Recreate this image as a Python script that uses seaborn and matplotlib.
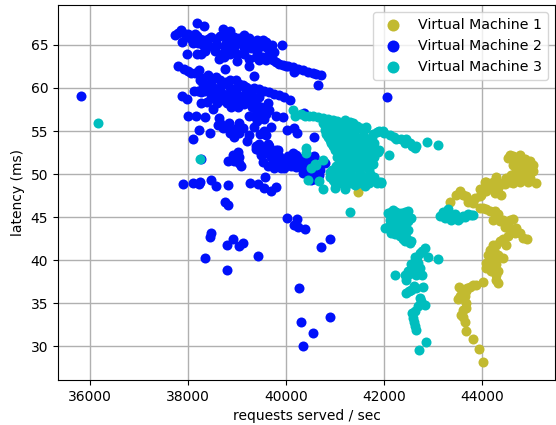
import pandas as pd
import matplotlib
matplotlib.use('Agg')
import matplotlib.pyplot as plt
import seaborn as sns

# values
vm1_x = [41471, 43340, 43544, 43476, 43680, 43816, 43952, 44054, 44224, 44088, 44258, 44394, 44462, 44496,
         44632, 44768, 44938, 45094, 44564, 44530, 44768, 44972, 45040, 44836, 44734, 44972, 44870, 44666,
         44938, 44802, 44632, 43952, 44088, 44258, 44326, 44224, 44428, 44632, 44462, 44598, 44768, 44918,
         44836, 44530, 44360, 44496, 44224, 44156, 44156, 44258, 44428, 44088, 44224, 44292, 44326, 44020,
         43884, 43748, 43523, 43666, 43510, 43666, 43612, 43578, 43652, 43673, 43822, 43938, 44026,
         44632, 44768, 44904, 45040, 44598, 44700, 44836, 44972, 44632, 44360, 44292, 44122, 43986, 43850,
         43714, 43612, 44190, 44326, 43952, 44088, 44564,
         44020, 44156, 44258, 44360, 44530, 44564, 44700, 44666, 44428, 44292, 44122, 44258, 44326, 44156,
         44088, 44292, 44326, 44292, 44224, 44190, 43816, 43693, 43578, 43646, 43544, 43666, 43612]
vm1_y = [47.9, 46.7, 48.0, 47.6, 47.4, 46.6, 47.4, 49.1, 49.1, 48.0, 47.8, 47.6, 48.8, 49.5,
         49.0, 49.1, 49.1, 49.0, 52.2, 51.9, 52.2, 51.5, 51.1, 50.9, 49.7, 50.1, 51.7, 51.5,
         50.6, 49.9, 52.1, 46.0, 45.9, 45.7, 45.3, 44.7, 44.7, 44.8, 43.8, 43.5, 43.1, 42.5,
         42.6, 42.8, 42.2, 41.8, 41.8, 41.2, 40.6, 40.0, 40.2, 39.6, 39.1, 38.3, 37.3, 37.4,
         37.1, 36.9, 36.9, 36.4, 35.5, 35.0, 34.2, 33.6, 32.8, 31.8, 30.8, 29.7, 28.1,
         51.1, 51.5, 50.7, 50.3, 49.9, 50.5, 49.7, 49.5, 49.5, 49.0, 49.7, 48.6, 47.6, 47.2,
         46.8, 47.6, 48.6, 48.4, 48.2, 49.1, 49.1,
         46.0, 45.7, 44.9, 44.5, 44.3, 44.7, 43.7, 43.1, 42.4, 41.8, 40.6, 40.8, 40.6, 39.8,
         39.1, 39.5, 38.7, 37.7, 39.8, 38.7, 37.1, 36.7, 36.6, 35.8, 35.8, 34.4, 33.4]

vm2_x = [35816, 42060, 38183, 38332, 38725, 38861, 37729, 37858, 39153, 37885, 38000, 38136, 38237, 38102,
         38407, 38576, 38305, 38271, 37980, 38509, 38644, 38746, 38780, 38915, 39051, 39187, 39322, 39539,
         39715, 39912, 39763, 39593, 39458, 38848, 38997, 39153, 39241, 39390, 39526, 39729, 39865, 40000,
         40136, 40170, 40339, 40543, 40712, 40651, 39356, 38759,
         37797, 37912, 38068, 38224, 38237, 38407, 38576, 38441, 38780, 38983, 39119, 39254, 39458, 39763,
         39966, 40081, 39627, 38129, 38271, 38441, 38576, 38712, 38881, 39051, 37885, 37986, 38271, 38475,
         38509, 38712, 38881, 39017, 39220, 39390, 39424, 39254, 39458, 39593, 39797, 39946, 38000, 38170,
         38353, 38631, 38610, 38848, 39051, 38712, 38949, 39119, 39254, 39200, 39356, 39695, 39593, 39471,
         38224, 38454, 38102, 40014, 40170, 40217, 40563, 40360, 39458, 39627, 39390, 39831, 39661, 40136,
         40563,
         38271, 38814, 38915, 39017, 39051, 39085, 39526, 39627, 39580, 39729, 39865, 39831, 39966, 40102,
         40170, 40204, 40034, 40339, 40407, 40576, 40793, 40678, 40509, 40576, 37898, 38102, 38224, 38237,
         38475, 38576, 38827, 39275, 39424, 39559, 39695, 39797, 38759, 38827, 40014, 40217, 40170, 40237,
         40380, 40902, 40712, 38475, 38454, 38929, 38800, 39037, 39119, 38346, 39437, 38800,
         40272, 40313, 40558, 40905, 40354, 39458, 39661, 39390, 39593, 39797, 40000, 40271, 40441, 40610,
         40339,
         37800, 37950, 38050, 38180, 38300, 38480, 38650, 38800, 38950, 39050, 39250, 39420, 39600, 38200,
         38400, 38600, 38750, 38950, 39150, 39280, 39400, 39650, 38350, 38550, 38700, 38850, 39000, 39250,
         39450, 39600, 39800, 39950, 40050, 40250, 40450, 40620, 38180,
         38000, 38150, 38300, 38500, 38650, 38850, 39050, 39180, 39350, 39550, 39650, 39850, 38300, 38500,
         38680, 38850, 39000, 39180, 38200, 38350, 38600, 38800, 38950, 39100, 39300, 39450, 38400, 38600,
         38800, 39000, 39150, 39300, 39500, 39650, 39350, 39550, 39400, 38650, 38800, 38900, 39000, 38850,
         39050, 39550,
         39600, 39750, 39500, 39700, 39800, 39900, 40000, 40100, 40200, 40300, 39900, 39750, 40450, 40550,
         40480, 40700, 40600, 40100, 40200, 40400, 39050, 38950]
vm2_y = [59.1, 58.9, 67.6, 67.2, 66.9, 66.6, 66.2, 66.8, 66.2, 65.3, 66.3, 66.3, 65.7, 65.2,
         65.7, 65.7, 65.0, 64.0, 63.9, 64.8, 63.4, 63.6, 65.2, 65.3, 65.2, 65.3, 65.3, 65.6,
         65.0, 65.0, 64.2, 64.8, 64.8, 64.4, 63.1, 64.0, 62.6, 63.6, 63.6, 63.2, 62.8, 62.6,
         62.4, 61.9, 62.1, 61.7, 61.5, 60.3, 61.4, 62.2,
         62.5, 62.2, 61.7, 62.1, 60.9, 61.5, 61.3, 60.5, 60.7, 60.9, 60.3, 59.9, 59.9, 59.3,
         59.0, 58.6, 58.2, 59.7, 59.5, 59.5, 59.7, 59.3, 59.3, 59.1, 59.1, 58.7, 58.3, 58.8,
         57.6, 58.6, 57.8, 57.8, 58.6, 58.4, 57.4, 56.8, 56.6, 57.0, 56.8, 56.6, 56.7, 56.8,
         56.6, 56.5, 55.7, 55.9, 55.9, 55.3, 54.3, 55.3, 54.5, 53.8, 55.5, 55.5, 54.5, 54.6,
         55.1, 54.8, 54.1, 55.1, 55.4, 54.8, 54.3, 57.1, 53.5, 53.5, 52.9, 52.8, 52.4, 52.4,
         52.0,
         51.7, 51.5, 52.2, 52.6, 51.3, 50.9, 51.4, 50.9, 49.7, 51.3, 52.1, 51.1, 50.7, 50.9,
         52.2, 51.5, 52.1, 51.1, 50.3, 52.1, 51.3, 49.9, 49.3, 50.7, 48.8, 49.0, 48.8, 49.1,
         49.3, 48.6, 48.7, 49.0, 48.8, 48.4, 48.0, 48.5, 46.7, 46.4, 44.9, 44.8, 44.1, 43.8,
         43.6, 42.5, 41.5, 43.1, 42.7, 42.4, 41.7, 41.6, 42.0, 40.2, 40.5, 38.8,
         36.8, 32.8, 31.5, 33.4, 30.0, 52.8, 53.2, 53.2, 52.4, 52.8, 51.5, 51.9, 51.3, 49.9,
         50.1,
         66.4, 66.3, 65.8, 66.0, 65.6, 65.9, 66.0, 65.9, 65.9, 65.8, 65.8, 65.6, 65.3, 65.2,
         65.0, 65.0, 64.6, 64.8, 64.6, 64.6, 64.2, 64.0, 64.3, 64.3, 63.9, 63.9, 64.0, 63.4,
         63.2, 63.3, 63.0, 62.7, 62.5, 62.2, 61.9, 61.6, 63.9,
         62.0, 61.8, 61.2, 61.0, 60.9, 60.9, 60.5, 60.1, 60.0, 59.6, 59.5, 59.2, 60.4, 60.2,
         60.2, 60.0, 60.0, 59.6, 59.7, 59.6, 59.0, 58.8, 58.6, 59.0, 59.2, 58.9, 58.4, 58.2,
         58.2, 58.2, 58.1, 57.8, 57.8, 57.4, 56.8, 56.4, 56.2, 55.9, 55.6, 55.0, 55.3, 54.8,
         54.8, 55.0,
         53.0, 52.5, 52.2, 52.0, 51.8, 51.2, 51.0, 51.7, 50.8, 50.8, 50.7, 50.7, 50.7, 50.3,
         49.8, 50.5, 49.4, 52.0, 52.2, 51.8, 52.0, 51.5]

vm3_x = [36163, 38237, 40149, 40183, 40386, 40556, 40760, 40963, 41200, 41370, 41539, 41641, 41776, 41980,
         42115, 42251, 42454, 42420, 42624, 42658, 42881, 43098, 42102,
         40759, 40895, 41098, 41302, 40827, 40963, 41166, 41369, 41573, 40895, 41098, 41302, 41505, 41708,
         40963, 41166, 41369, 41573, 41776, 41878, 41098, 41302, 41505, 41708, 41098, 41302, 41505, 41742,
         41030, 41234, 41437, 41641, 40895, 41098, 41302, 41505, 41708, 40963, 41166, 41369, 41573, 41742,
         41898, 40997, 41200, 41403, 41607,
         40400, 40400, 40590, 40759, 40522, 40624, 40441, 40678, 40759, 41302, 41946,
         42184, 42082, 42252, 42490, 42558, 42116, 42320, 42456, 42014, 42150, 42320, 42490, 42320, 42422,
         42524, 42456, 42218,
         42830, 42898, 43102, 42626, 42728, 42694, 42592, 42728, 42490, 42660, 42782, 42224, 42456, 42796,
         42660, 42558, 42456, 42741, 42830, 42694, 42578, 42612, 42660, 42850, 42721,
         43136, 43306, 43374, 43510, 43612, 43816, 43442, 43238, 43714,
         40300, 40470, 40650, 40850, 41050, 41300, 41450, 41620, 41000, 41200, 40800,
         40800, 41000, 41200, 41400, 40860, 41030, 41200, 41400, 41600, 41750, 40930, 41030, 41200, 41400,
         41600, 41800, 41000, 41100, 41280, 41460, 41640, 41820, 41900, 41050, 41200, 41400, 41600, 41800,
         41100, 41200, 41400, 41600, 41780, 40950, 41130, 41300, 41500, 41700, 40900, 41050, 41250, 41450,
         41650, 41800, 41000, 41130, 41300, 41500, 41700, 41850, 41950,
         42000, 42200, 42350, 42530, 42580, 41850, 41900,
         42150, 42250, 42350, 42430, 42200, 42300, 42420, 42500, 42150, 42250, 42350, 42500, 42100, 42220,
         42350, 42430, 42230, 42330, 42420, 42480, 42550, 42380,
         42780, 42680, 42640, 42560, 42650, 42700, 42510, 42430, 42620, 42510, 42760, 42640, 42600, 42640,
         43200, 43280, 43420, 43560, 43660, 43770]
vm3_y = [55.9, 51.7, 57.4, 56.7, 56.7, 56.7, 56.5, 56.3, 56.3, 55.9, 55.3, 55.5, 54.7, 55.0,
         54.5, 54.1, 54.1, 53.6, 53.0, 53.2, 53.7, 53.4, 52.2,
         55.9, 55.5, 55.5, 55.3, 54.7, 54.7, 54.7, 54.7, 54.5, 54.0, 54.0, 54.0, 54.0, 53.8,
         53.2, 53.2, 53.2, 53.2, 53.4, 52.6, 52.4, 52.4, 52.4, 52.4, 51.6, 51.6, 51.6, 51.5,
         50.9, 50.9, 50.9, 50.9, 50.2, 50.1, 50.1, 50.1, 50.0, 49.3, 49.3, 49.3, 49.3, 49.2,
         49.1, 48.4, 48.3, 48.7, 48.6,
         53.0, 52.4, 51.2, 51.6, 50.7, 51.0, 49.3, 49.2, 48.3, 45.6, 49.1,
         45.8, 45.5, 45.3, 45.7, 44.9, 44.7, 44.7, 44.3, 43.7, 43.1, 43.7, 43.5, 42.8, 42.2,
         42.0, 42.6, 43.9,
         41.4, 40.4, 40.1, 40.4, 40.8, 39.7, 39.1, 39.1, 38.7, 38.3, 38.3, 38.2, 37.7, 36.9,
         36.7, 36.5, 36.2, 35.6, 34.8, 34.6, 33.8, 32.8, 31.9, 30.5, 29.5,
         45.1, 45.9, 44.7, 44.6, 45.1, 45.2, 45.3, 44.9, 45.3,
         57.0, 56.7, 56.6, 56.4, 56.2, 56.0, 55.6, 55.2, 55.8, 55.8, 55.6,
         55.1, 55.1, 55.1, 55.1, 54.3, 54.3, 54.3, 54.3, 54.3, 54.3, 53.6, 53.6, 53.6, 53.6,
         53.6, 53.6, 52.8, 52.8, 52.8, 52.8, 52.8, 52.8, 52.8, 52.0, 52.0, 52.0, 52.0, 52.0,
         51.2, 51.2, 51.2, 51.2, 51.2, 50.5, 50.5, 50.5, 50.5, 50.5, 49.7, 49.7, 49.7, 49.7,
         49.7, 49.7, 48.9, 48.9, 48.9, 48.9, 48.9, 48.9, 48.9,
         54.8, 54.3, 54.1, 53.6, 53.2, 54.9, 55.0,
         45.6, 45.6, 45.5, 45.6, 45.0, 45.0, 45.0, 45.0, 44.4, 44.3, 44.4, 44.5, 43.9, 43.5,
         43.6, 43.3, 43.0, 42.9, 42.8, 42.5, 42.2, 42.5,
         41.0, 40.3, 39.9, 39.5, 39.0, 38.7, 38.4, 38.2, 37.0, 36.4, 35.2, 34.1, 33.3, 32.3,
         45.6, 45.5, 45.0, 44.9, 45.0, 45.2]

names = ['Virtual Machine 1', 'Virtual Machine 2', 'Virtual Machine 3']
colors = ['#c2ba30', '#0010fa', '#00bebe']

df = pd.concat([
    pd.DataFrame({'x': vm1_x, 'y': vm1_y, 'vm': names[0]}),
    pd.DataFrame({'x': vm2_x, 'y': vm2_y, 'vm': names[1]}),
    pd.DataFrame({'x': vm3_x, 'y': vm3_y, 'vm': names[2]}),
])

fig, ax = plt.subplots(figsize=(5.56, 4.25), dpi=100)
fig.subplots_adjust(left=58 / 556, right=555 / 556, top=1 - 5 / 425, bottom=1 - 380 / 425)

# yellow first so cyan ends up on top
for name, color in zip(names, colors):
    sns.scatterplot(data=df[df['vm'] == name], x='x', y='y', color=color, s=52, linewidth=0,
                    label=name, ax=ax, zorder=3)

ax.set_xlim(35350, 45490)
ax.set_ylim(26.05, 69.65)
ax.set_xticks([36000, 38000, 40000, 42000, 44000])
ax.set_yticks([30, 35, 40, 45, 50, 55, 60, 65])
ax.grid(True, color='#b0b0b0', linewidth=1)
ax.set_axisbelow(True)
ax.set_xlabel('requests served / sec')
ax.set_ylabel('latency (ms)')
ax.legend(loc='upper right', fontsize=10.2, markerscale=1.2)

plt.savefig('out.png', dpi=100)
